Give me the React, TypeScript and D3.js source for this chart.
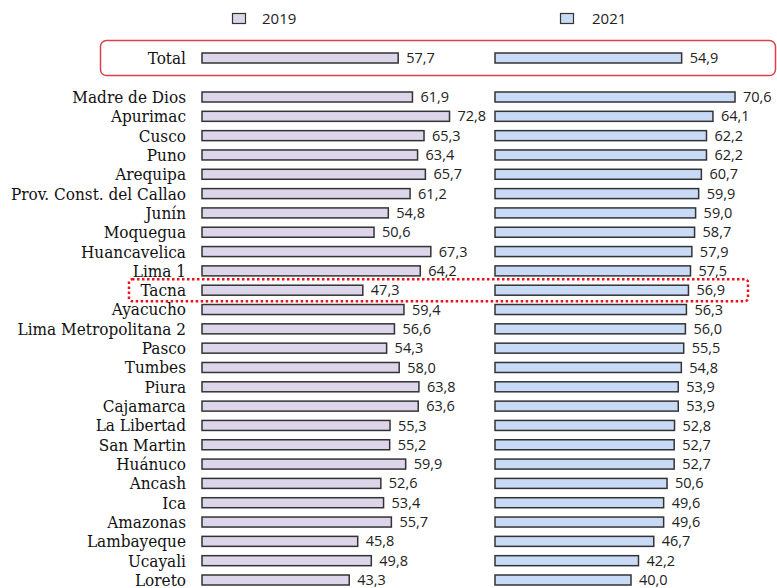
import { useEffect, useRef } from 'react'
import * as d3 from 'd3'

// Datos
const regions = [
  'Total', 'Madre de Dios', 'Apurimac', 'Cusco', 'Puno', 'Arequipa', 'Prov. Const. del Callao',
  'Junín', 'Moquegua', 'Huancavelica', 'Lima 1', 'Tacna', 'Ayacucho', 'Lima Metropolitana 2',
  'Pasco', 'Tumbes', 'Piura', 'Cajamarca', 'La Libertad', 'San Martin', 'Huánuco', 'Ancash',
  'Ica', 'Amazonas', 'Lambayeque', 'Ucayali', 'Loreto',
]
const values2019 = [
  57.7, 61.9, 72.8, 65.3, 63.4, 65.7, 61.2, 54.8, 50.6, 67.3, 64.2, 47.3, 59.4, 56.6,
  54.3, 58.0, 63.8, 63.6, 55.3, 55.2, 59.9, 52.6, 53.4, 55.7, 45.8, 49.8, 43.3,
]
const values2021 = [
  54.9, 70.6, 64.1, 62.2, 62.2, 60.7, 59.9, 59.0, 58.7, 57.9, 57.5, 56.9, 56.3, 56.0,
  55.5, 54.8, 53.9, 53.9, 52.8, 52.7, 52.7, 50.6, 49.6, 49.6, 46.7, 42.2, 40.0,
]
const years = ['2019', '2021']

const App = () => {
  const ref = useRef<SVGSVGElement>(null)

  useEffect(() => {
    const w = 777
    const h = 588
    const svg = d3.select(ref.current)
    svg.selectAll('*').remove()
    svg.attr('width', w).attr('height', h)

    const colors = ['#ddd5ea', '#c8daf5']
    const stroke = '#333'
    const serif = '"DejaVu Serif Condensed", "DejaVu Serif", serif'
    const sans = '"Open Sans", sans-serif'

    // posiciones verticales: Total separado del resto
    const yPos = (i: number) => (i === 0 ? 58 : 97 + (i - 1) * 19.32)
    const barH = 10

    const xLeft = d3.scaleLinear().domain([0, 75]).range([202, 202 + 75 * 3.4])
    const xRight = d3.scaleLinear().domain([0, 75]).range([495, 495 + 75 * 3.4])

    // recuadro del total
    svg.append('rect')
      .attr('x', 100.5).attr('y', 40.5)
      .attr('width', 675).attr('height', 35)
      .attr('rx', 6)
      .attr('fill', 'none')
      .attr('stroke', '#d9424b')
      .attr('stroke-width', 1.5)

    // recuadro Tacna
    const ti = regions.indexOf('Tacna')
    svg.append('rect')
      .attr('x', 129).attr('y', yPos(ti) - 11)
      .attr('width', 619).attr('height', 22)
      .attr('rx', 3)
      .attr('fill', 'none')
      .attr('stroke', '#e8141c')
      .attr('stroke-width', 2.5)
      .attr('stroke-dasharray', '2.5 2.5')

    // leyenda
    const legX = [232, 560]
    years.forEach((yr, k) => {
      svg.append('rect')
        .attr('x', legX[k] + 0.5).attr('y', 13.5)
        .attr('width', 13).attr('height', 10)
        .attr('fill', colors[k]).attr('stroke', stroke).attr('stroke-width', 1.2)
      svg.append('text')
        .attr('x', legX[k] + (k === 0 ? 30 : 32)).attr('y', 19)
        .attr('dy', '0.35em')
        .style('font-family', sans).style('font-size', '15px').attr('fill', '#222')
        .text(yr)
    })

    // etiquetas de regiones
    svg.selectAll('.lab')
      .data(regions)
      .enter()
      .append('text')
      .attr('x', 186)
      .attr('y', (_, i) => yPos(i))
      .attr('dy', '0.35em')
      .attr('text-anchor', 'end')
      .style('font-family', serif).style('font-size', '17px').attr('fill', '#111')
      .text(d => d)

    const fmt = (v: number) => v.toFixed(1).replace('.', ',')

    const panels = [
      { x: xLeft, vals: values2019, fill: colors[0] },
      { x: xRight, vals: values2021, fill: colors[1] },
    ]
    panels.forEach(p => {
      const g = svg.append('g')
      g.selectAll('rect')
        .data(p.vals)
        .enter()
        .append('rect')
        .attr('x', p.x(0))
        .attr('y', (_, i) => yPos(i) - barH / 2)
        .attr('width', d => p.x(d) - p.x(0))
        .attr('height', barH)
        .attr('fill', p.fill)
        .attr('stroke', stroke)
        .attr('stroke-width', 1.5)

      g.selectAll('text')
        .data(p.vals)
        .enter()
        .append('text')
        .attr('x', d => p.x(d) + 8)
        .attr('y', (_, i) => yPos(i))
        .attr('dy', '0.35em')
        .style('font-family', sans).style('font-size', '14.5px').attr('fill', '#222')
        .text(d => fmt(d))
    })
  }, [])

  return (
    <div style={{ position: 'absolute', left: 0, top: 0, background: '#fff' }}>
      <svg ref={ref}></svg>
    </div>
  )
}

export default App
